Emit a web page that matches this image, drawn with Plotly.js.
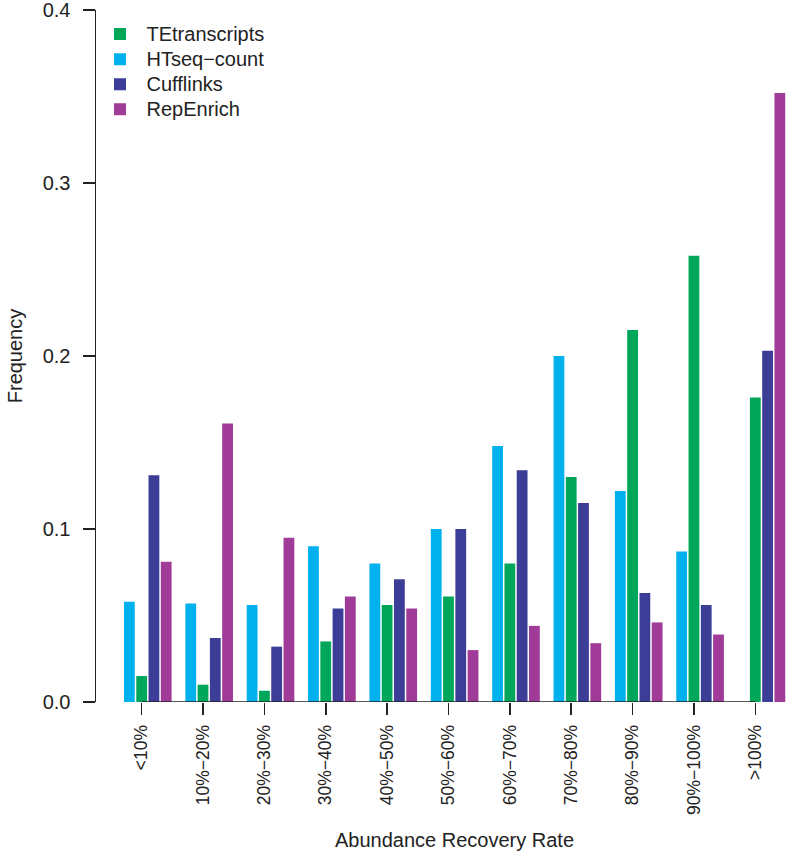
<!DOCTYPE html>
<html>
<head>
<meta charset="utf-8">
<script src="https://cdn.plot.ly/plotly-3.0.1.min.js"></script>
<style>html,body{margin:0;padding:0;background:#fff;}#chart{width:786px;height:853px;}</style>
</head>
<body>
<div id="chart"></div>
<script>
const categories = ['<10%','10%\u221220%','20%\u221230%','30%\u221240%','40%\u221250%','50%\u221260%','60%\u221270%','70%\u221280%','80%\u221290%','90%\u2212100%','>100%'];
const htseq     = [0.058, 0.057, 0.056, 0.090, 0.080, 0.100, 0.148, 0.200, 0.122, 0.087, 0];
const tetrans   = [0.015, 0.010, 0.0065, 0.035, 0.056, 0.061, 0.080, 0.130, 0.215, 0.258, 0.176];
const cufflinks = [0.131, 0.037, 0.032, 0.054, 0.071, 0.100, 0.134, 0.115, 0.063, 0.056, 0.203];
const repenrich = [0.081, 0.161, 0.095, 0.061, 0.054, 0.030, 0.044, 0.034, 0.046, 0.039, 0.352];
const yTicks = [0, 0.1, 0.2, 0.3, 0.4];

const FONT = '"Liberation Sans", Arial, Helvetica, sans-serif';
const xIdx = categories.map((_, i) => i);
const tickPos = xIdx.map(i => i - 0.1);

const traces = [
  {name: 'HTseq\u2212count', y: htseq, color: '#00b1ee', rank: 2},
  {name: 'TEtranscripts', y: tetrans, color: '#00a65a', rank: 1},
  {name: 'Cufflinks', y: cufflinks, color: '#3b3d97', rank: 3},
  {name: 'RepEnrich', y: repenrich, color: '#a03c97', rank: 4}
].map(s => ({
  type: 'bar', x: xIdx, y: s.y,
  name: '<span style="font-size:20px">' + s.name + '</span>',
  legendrank: s.rank,
  marker: {color: s.color, line: {width: 0}}, hoverinfo: 'skip'
}));

const T = 10, B = 151, H = 853;
const plotH = H - T - B;

const layout = {
  width: 786, height: H,
  margin: {l: 96, r: 0, t: T, b: B, autoexpand: false},
  paper_bgcolor: '#fff', plot_bgcolor: '#fff',
  font: {family: FONT, color: '#222', size: 20},
  barmode: 'group', bargap: 0.2, bargroupgap: 0.12,
  showlegend: true,
  legend: {
    x: -2.5 / 690, y: 1 - (16.5 - T) / plotH, xanchor: 'left', yanchor: 'top',
    bgcolor: 'rgba(0,0,0,0)', font: {size: 17, family: FONT, color: '#222'},
    tracegroupgap: 0, itemwidth: 43
  },
  xaxis: {
    range: [-0.844, 10.4], tickmode: 'array', tickvals: tickPos, ticktext: categories,
    tickangle: -90, ticks: 'outside', ticklen: 12, tickwidth: 1.5, tickcolor: '#222',
    tickfont: {size: 17.5, family: FONT, color: '#222'},
    ticklabelstandoff: 3, ticklabeloverflow: 'allow', automargin: false,
    showline: false, showgrid: false, zeroline: false, fixedrange: true
  },
  yaxis: {
    range: [0, 0.4], tickmode: 'array', tickvals: yTicks, tickformat: '.1f',
    ticks: 'outside', ticklen: 12, tickwidth: 1.5, tickcolor: '#222',
    tickfont: {size: 20, family: FONT, color: '#222'},
    ticklabelstandoff: 8, ticklabeloverflow: 'allow', automargin: false,
    showline: true, linecolor: '#222', linewidth: 1.5,
    showgrid: false, zeroline: false, fixedrange: true,
    title: {text: 'Frequency', font: {size: 20, family: FONT, color: '#222'}, standoff: 14}
  },
  shapes: [{
    type: 'line', xref: 'x', yref: 'y',
    x0: tickPos[0], x1: tickPos[tickPos.length - 1], y0: 0, y1: 0,
    line: {color: '#222', width: 1.5}
  }],
  annotations: [{
    text: 'Abundance Recovery Rate', xref: 'paper', yref: 'paper',
    x: (455 - 96) / 690, y: (702 - 840) / plotH, xanchor: 'center', yanchor: 'middle',
    showarrow: false, font: {size: 20, family: FONT, color: '#222'}
  }]
};

Plotly.newPlot('chart', traces, layout, {displayModeBar: false, staticPlot: true});
</script>
</body>
</html>
